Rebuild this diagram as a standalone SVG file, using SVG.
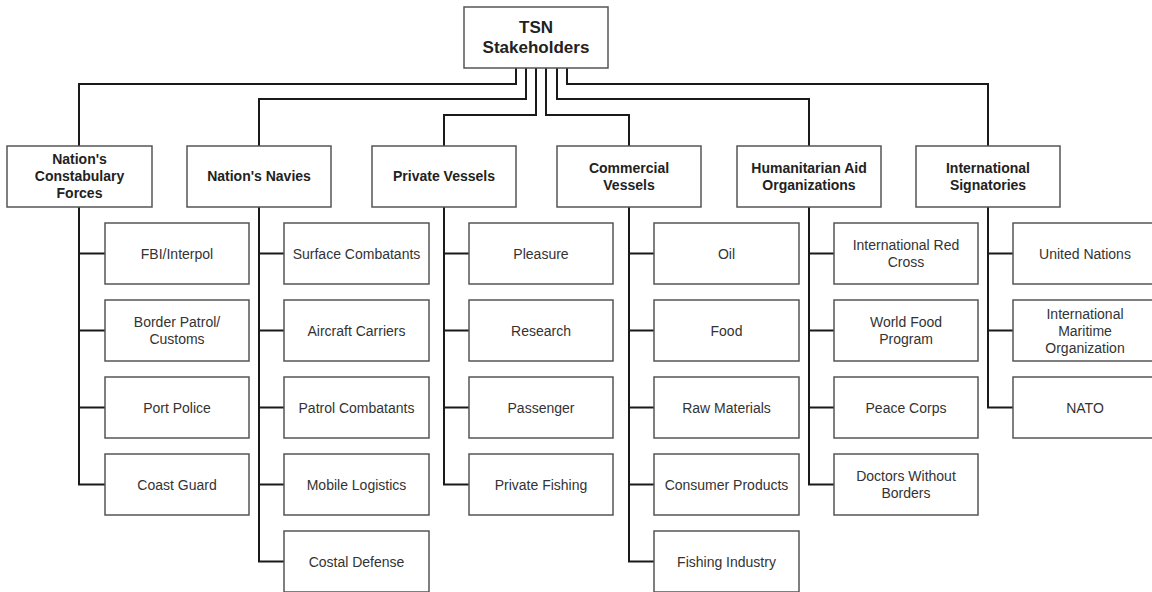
<svg xmlns="http://www.w3.org/2000/svg" width="1152" height="592" viewBox="0 0 1152 592">
<style>
rect{fill:#fff;stroke:#555;stroke-width:1.5}
text{font-family:"Liberation Sans",Arial,sans-serif;text-anchor:middle}
.r{font-size:17px;font-weight:bold;fill:#222}
.h{font-size:14px;font-weight:bold;fill:#222}
.c{font-size:14px;fill:#333}
#connectors path{fill:none;stroke:#1a1a1a;stroke-width:2}
</style>
<rect width="1152" height="592" style="fill:#fff;stroke:none"/>
<g id="connectors">
<path d="M516,68V84H79V146"/>
<path d="M526,68V99H259V146"/>
<path d="M536,68V115H444V146"/>
<path d="M546,68V115H629V146"/>
<path d="M557,68V99H809V146"/>
<path d="M567,68V84H988V146"/>
<path d="M79,207V484.5H105M79,253.5H105M79,330.5H105M79,407.5H105"/>
<path d="M259,207V561.5H284M259,253.5H284M259,330.5H284M259,407.5H284M259,484.5H284"/>
<path d="M444,207V484.5H469M444,253.5H469M444,330.5H469M444,407.5H469"/>
<path d="M629,207V561.5H654M629,253.5H654M629,330.5H654M629,407.5H654M629,484.5H654"/>
<path d="M809,207V484.5H834M809,253.5H834M809,330.5H834M809,407.5H834"/>
<path d="M988,207V407.5H1013M988,253.5H1013M988,330.5H1013"/>
</g>
<g id="root"><rect x="464" y="7" width="144" height="61"/><text class="r" x="536" y="33">TSN</text><text class="r" x="536" y="53">Stakeholders</text></g>
<g id="constabulary"><rect x="7" y="146" width="145" height="61"/><text class="h" x="79.5" y="164">Nation's</text><text class="h" x="79.5" y="181">Constabulary</text><text class="h" x="79.5" y="198">Forces</text></g>
<g id="navies"><rect x="187" y="146" width="144" height="61"/><text class="h" x="259" y="181">Nation's Navies</text></g>
<g id="private"><rect x="372" y="146" width="144" height="61"/><text class="h" x="444" y="181">Private Vessels</text></g>
<g id="commercial"><rect x="557" y="146" width="144" height="61"/><text class="h" x="629" y="172.5">Commercial</text><text class="h" x="629" y="189.5">Vessels</text></g>
<g id="humanitarian"><rect x="737" y="146" width="144" height="61"/><text class="h" x="809" y="172.5">Humanitarian Aid</text><text class="h" x="809" y="189.5">Organizations</text></g>
<g id="signatories"><rect x="916" y="146" width="144" height="61"/><text class="h" x="988" y="172.5">International</text><text class="h" x="988" y="189.5">Signatories</text></g>

<g id="fbi"><rect x="105" y="223" width="144" height="61"/><text class="c" x="177" y="258.5">FBI/Interpol</text></g>
<g id="border"><rect x="105" y="300" width="144" height="61"/><text class="c" x="177" y="327">Border Patrol/</text><text class="c" x="177" y="344">Customs</text></g>
<g id="port"><rect x="105" y="377" width="144" height="61"/><text class="c" x="177" y="412.5">Port Police</text></g>
<g id="coast"><rect x="105" y="454" width="144" height="61"/><text class="c" x="177" y="489.5">Coast Guard</text></g>

<g id="surface"><rect x="284" y="223" width="145" height="61"/><text class="c" x="356.5" y="258.5">Surface Combatants</text></g>
<g id="aircraft"><rect x="284" y="300" width="145" height="61"/><text class="c" x="356.5" y="335.5">Aircraft Carriers</text></g>
<g id="patrol"><rect x="284" y="377" width="145" height="61"/><text class="c" x="356.5" y="412.5">Patrol Combatants</text></g>
<g id="mobile"><rect x="284" y="454" width="145" height="61"/><text class="c" x="356.5" y="489.5">Mobile Logistics</text></g>
<g id="costal"><rect x="284" y="531" width="145" height="61"/><text class="c" x="356.5" y="566.5">Costal Defense</text></g>

<g id="pleasure"><rect x="469" y="223" width="144" height="61"/><text class="c" x="541" y="258.5">Pleasure</text></g>
<g id="research"><rect x="469" y="300" width="144" height="61"/><text class="c" x="541" y="335.5">Research</text></g>
<g id="passenger"><rect x="469" y="377" width="144" height="61"/><text class="c" x="541" y="412.5">Passenger</text></g>
<g id="privfish"><rect x="469" y="454" width="144" height="61"/><text class="c" x="541" y="489.5">Private Fishing</text></g>

<g id="oil"><rect x="654" y="223" width="145" height="61"/><text class="c" x="726.5" y="258.5">Oil</text></g>
<g id="food"><rect x="654" y="300" width="145" height="61"/><text class="c" x="726.5" y="335.5">Food</text></g>
<g id="raw"><rect x="654" y="377" width="145" height="61"/><text class="c" x="726.5" y="412.5">Raw Materials</text></g>
<g id="consumer"><rect x="654" y="454" width="145" height="61"/><text class="c" x="726.5" y="489.5">Consumer Products</text></g>
<g id="fishind"><rect x="654" y="531" width="145" height="61"/><text class="c" x="726.5" y="566.5">Fishing Industry</text></g>

<g id="redcross"><rect x="834" y="223" width="144" height="61"/><text class="c" x="906" y="250">International Red</text><text class="c" x="906" y="267">Cross</text></g>
<g id="wfp"><rect x="834" y="300" width="144" height="61"/><text class="c" x="906" y="327">World Food</text><text class="c" x="906" y="344">Program</text></g>
<g id="peace"><rect x="834" y="377" width="144" height="61"/><text class="c" x="906" y="412.5">Peace Corps</text></g>
<g id="doctors"><rect x="834" y="454" width="144" height="61"/><text class="c" x="906" y="481">Doctors Without</text><text class="c" x="906" y="498">Borders</text></g>

<g id="un"><rect x="1013" y="223" width="144" height="61"/><text class="c" x="1085" y="258.5">United Nations</text></g>
<g id="imo"><rect x="1013" y="300" width="144" height="61"/><text class="c" x="1085" y="318.5">International</text><text class="c" x="1085" y="335.5">Maritime</text><text class="c" x="1085" y="352.5">Organization</text></g>
<g id="nato"><rect x="1013" y="377" width="144" height="61"/><text class="c" x="1085" y="412.5">NATO</text></g>
</svg>
